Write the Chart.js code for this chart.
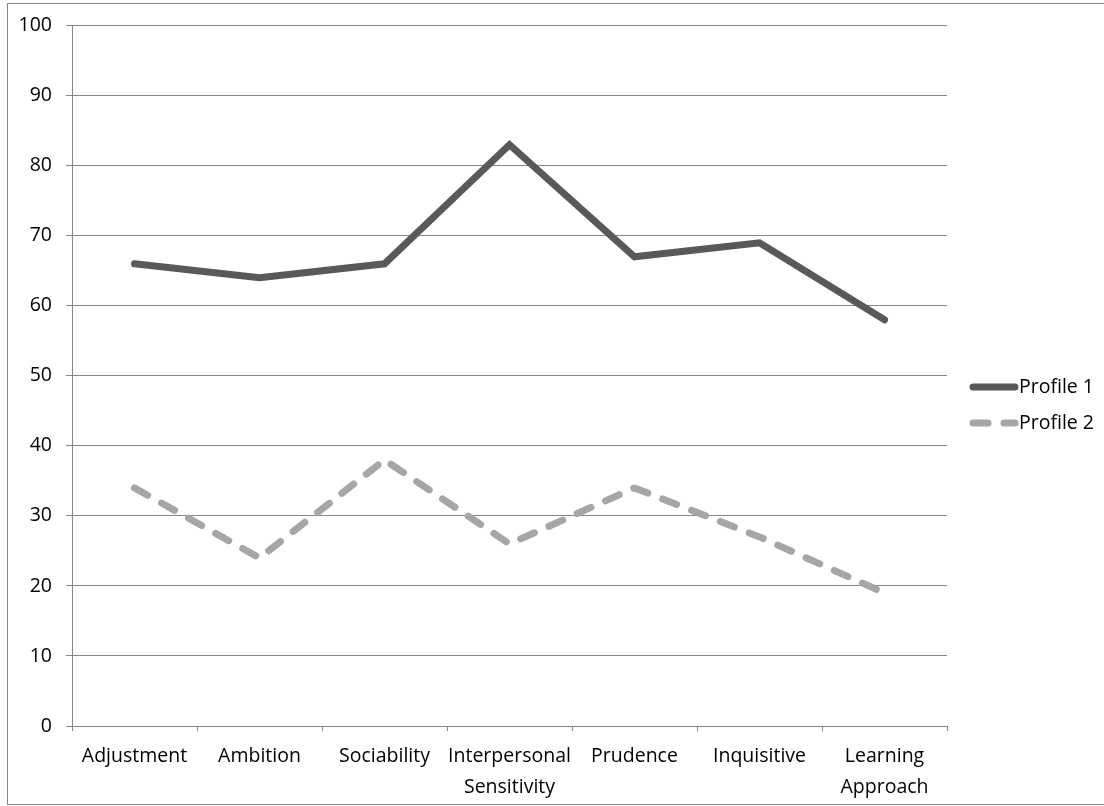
<!DOCTYPE html>
<html>
<head>
<meta charset="utf-8">
<script src="https://cdn.jsdelivr.net/npm/chart.js@4/dist/chart.umd.min.js"></script>
<style>
  html, body { margin: 0; padding: 0; background: #fff; }
  #wrap { width: 1104px; height: 806px; position: relative; }
</style>
</head>
<body>
<div id="wrap"><canvas id="chart" width="1104" height="806"></canvas></div>
<script>
// Scale categories (multi-line labels are arrays)
const categories = [
  'Adjustment', 'Ambition', 'Sociability', ['Interpersonal', 'Sensitivity'],
  'Prudence', 'Inquisitive', ['Learning', 'Approach']
];
const seriesNames = ['Profile 1', 'Profile 2'];
const profile1 = [66, 64, 66, 83, 67, 69, 58];
const profile2 = [34, 24, 38, 26, 34, 27, 19];
const yTicks = [0, 10, 20, 30, 40, 50, 60, 70, 80, 90, 100];

const FONT = '"Open Sans", "Noto Sans", sans-serif';
const FONT_SIZE = 19.5;
const GRID = '#868686';

// Frame around the whole chart
const framePlugin = {
  id: 'frame',
  beforeDraw(chart) {
    const ctx = chart.ctx;
    ctx.save();
    ctx.fillStyle = '#fff';
    ctx.fillRect(0, 0, chart.width, chart.height);
    ctx.strokeStyle = GRID;
    ctx.lineWidth = 1;
    ctx.strokeRect(7.5, 3.5, chart.width + 10, chart.height - 5);
    ctx.restore();
  }
};

// Legend on the right: line sample followed by the series name
const sideLegend = {
  id: 'sideLegend',
  afterDraw(chart) {
    const ctx = chart.ctx;
    const x0 = 970, x1 = 1018;
    const rows = [387, 423];
    ctx.save();
    chart.data.datasets.forEach((ds, i) => {
      const y = rows[i];
      ctx.strokeStyle = ds.borderColor;
      ctx.lineWidth = ds.borderWidth;
      ctx.lineCap = 'round';
      ctx.setLineDash(ds.borderDash || []);
      ctx.beginPath();
      ctx.moveTo(x0 + 3, y);
      ctx.lineTo(x1 - 3, y);
      ctx.stroke();
      ctx.setLineDash([]);
      ctx.fillStyle = '#000';
      ctx.font = FONT_SIZE + 'px ' + FONT;
      ctx.textAlign = 'left';
      ctx.textBaseline = 'middle';
      ctx.fillText(ds.label, x1 + 1, y);
    });
    ctx.restore();
  }
};

new Chart(document.getElementById('chart'), {
  type: 'line',
  data: {
    labels: categories,
    datasets: [
      {
        label: seriesNames[0],
        data: profile1,
        borderColor: '#595959',
        borderWidth: 7,
        borderCapStyle: 'round',
        borderJoinStyle: 'miter',
        pointRadius: 0,
        tension: 0,
        fill: false
      },
      {
        label: seriesNames[1],
        data: profile2,
        borderColor: '#a6a6a6',
        borderWidth: 7,
        borderDash: [15, 16],
        borderCapStyle: 'round',
        borderJoinStyle: 'round',
        pointRadius: 0,
        tension: 0,
        fill: false
      }
    ]
  },
  options: {
    responsive: false,
    animation: false,
    devicePixelRatio: 1,
    layout: { padding: { top: 24, right: 157, bottom: 0, left: 0 } },
    plugins: {
      legend: { display: false },
      tooltip: { enabled: false }
    },
    scales: {
      x: {
        type: 'category',
        offset: true,
        grid: {
          offset: true,
          drawOnChartArea: false,
          drawTicks: true,
          tickLength: 5,
          color: GRID,
          lineWidth: 1
        },
        border: { display: true, color: GRID, width: 1 },
        ticks: {
          color: '#000',
          font: { family: FONT, size: FONT_SIZE, lineHeight: 31 / FONT_SIZE },
          padding: 9.5,
          maxRotation: 0,
          autoSkip: false
        },
        afterFit(scale) { scale.height = 80; }
      },
      y: {
        min: 0,
        max: 100,
        afterBuildTicks(scale) { scale.ticks = yTicks.map(v => ({ value: v })); },
        grid: {
          color: GRID,
          lineWidth: 1,
          tickLength: 6,
          drawTicks: true
        },
        border: { display: true, color: GRID, width: 1 },
        ticks: {
          color: '#000',
          font: { family: FONT, size: FONT_SIZE },
          padding: 14
        },
        afterFit(scale) { scale.width = 72; }
      }
    }
  },
  plugins: [framePlugin, sideLegend]
});
</script>
</body>
</html>
